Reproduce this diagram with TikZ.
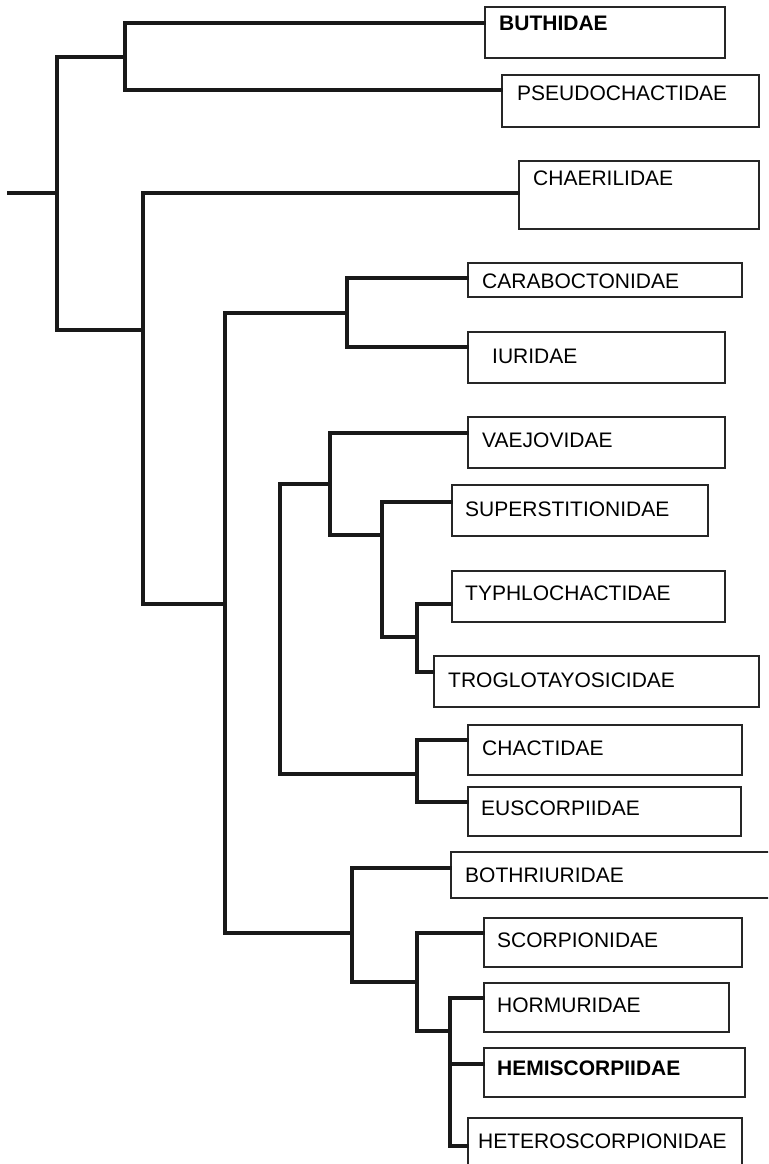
\documentclass[tikz,border=0pt]{standalone}
\usepackage{fontspec}
\setmainfont{Liberation Sans}
\begin{document}
\begin{tikzpicture}[x=1pt,y=-1pt,
  branch/.style={line width=3.7pt, draw=black!90, line cap=rect, line join=miter},
  taxonbox/.style={draw=black!85, line width=1.6pt, rectangle, inner sep=0pt, anchor=north west},
  boldbox/.style={taxonbox, line width=2.2pt},
  taxonname/.style={anchor=base west, inner sep=0pt, font=\fontsize{21}{25}\selectfont, text=black},
]
\useasboundingbox (0,0) rectangle (768,1164);
\clip (0,0) rectangle (768,1164);

% box of a terminal taxon: [style] name, left, top, right, bottom
\newcommand\leafbox[6][taxonbox]{%
  \node[#1, minimum width={(#5-#3)*1pt}, minimum height={(#6-#4)*1pt}] (#2) at (#3,#4) {};
}
% name of a terminal taxon: node, x, baseline, text
\newcommand\leaflabel[4]{%
  \node[taxonname] (#1-label) at (#2,#3) {#4};
}

% terminal taxa: boxes
\leafbox[boldbox]{buth}{484}{6}{724}{57}
\leafbox{pseu}{501}{74}{758}{126}
\leafbox{chae}{518}{160}{758}{228}
\leafbox{cara}{467}{262}{741}{296}
\leafbox{iuri}{467}{331}{724}{382}
\leafbox{vaej}{467}{416}{724}{467}
\leafbox{supe}{451}{484}{707}{535}
\leafbox{typh}{451}{570}{724}{621}
\leafbox{trog}{433}{655}{758}{706}
\leafbox{chac}{467}{724}{741}{774}
\leafbox{eusc}{467}{786}{740}{835}
\leafbox{both}{450}{851}{790}{897}
\leafbox{scor}{483}{917}{741}{966}
\leafbox{horm}{483}{982}{728}{1031}
\leafbox[taxonbox, line width=1.9pt]{hemi}{483}{1047}{744}{1096}
\leafbox{hete}{467}{1117}{741}{1190}

% terminal taxa: names
\leaflabel{buth}{499}{31}{\bfseries BUTHIDAE}
\leaflabel{pseu}{517}{100}{PSEUDOCHACTIDAE}
\leaflabel{chae}{533}{185}{CHAERILIDAE}
\leaflabel{cara}{482}{288}{CARABOCTONIDAE}
\leaflabel{iuri}{492}{363}{IURIDAE}
\leaflabel{vaej}{482}{447}{VAEJOVIDAE}
\leaflabel{supe}{465}{516}{SUPERSTITIONIDAE}
\leaflabel{typh}{465}{600}{TYPHLOCHACTIDAE}
\leaflabel{trog}{448}{687}{TROGLOTAYOSICIDAE}
\leaflabel{chac}{482}{755}{CHACTIDAE}
\leaflabel{eusc}{481}{815}{EUSCORPIIDAE}
\leaflabel{both}{465}{882}{BOTHRIURIDAE}
\leaflabel{scor}{497}{947}{SCORPIONIDAE}
\leaflabel{horm}{497}{1012}{HORMURIDAE}
\leaflabel{hemi}{497}{1075}{\bfseries HEMISCORPIIDAE}
\leaflabel{hete}{478}{1148}{HETEROSCORPIONIDAE}

% internal nodes of the tree
\coordinate (root) at (8.5,193);
\coordinate (n0) at (57,193);
\coordinate (nA) at (125,57);
\coordinate (nB) at (143,330);
\coordinate (nC) at (347,313);
\coordinate (nD) at (225,604);
\coordinate (nE) at (280,629);
\coordinate (nF) at (330,484);
\coordinate (nG) at (382,535);
\coordinate (nH) at (417,637);
\coordinate (nI) at (417,774);
\coordinate (nJ) at (352,933);
\coordinate (nK) at (417,982);
\coordinate (nL) at (450,1031);

% branches
\draw[branch] (root) -- (n0);
\draw[branch] (n0) |- (nA);
\draw[branch] (n0) |- (nB);
\draw[branch] (nA) |- (buth.west |- 0,23);
\draw[branch] (nA) |- (pseu.west |- 0,90);
\draw[branch] (nB) |- (chae.west |- 0,193);
\draw[branch] (nB) |- (nD);
\draw[branch] (nD) |- (nC);
\draw[branch] (nC) |- (cara.west |- 0,278);
\draw[branch] (nC) |- (iuri.west |- 0,347);
\draw[branch] (nD) |- (nJ);
\draw[branch] (nE) |- (nF);
\draw[branch] (nE) |- (nI);
\draw[branch] (nF) |- (vaej.west |- 0,433);
\draw[branch] (nF) |- (nG);
\draw[branch] (nG) |- (supe.west |- 0,502);
\draw[branch] (nG) |- (nH);
\draw[branch] (nH) |- (typh.west |- 0,604);
\draw[branch] (nH) |- (trog.west |- 0,672);
\draw[branch] (nI) |- (chac.west |- 0,740);
\draw[branch] (nI) |- (eusc.west |- 0,802);
\draw[branch] (nJ) |- (both.west |- 0,868);
\draw[branch] (nJ) |- (nK);
\draw[branch] (nK) |- (scor.west |- 0,933);
\draw[branch] (nK) |- (nL);
\draw[branch] (nL) |- (horm.west |- 0,998);
\draw[branch] (nL) |- (hemi.west |- 0,1064);
\draw[branch] (nL) |- (hete.west |- 0,1146);
\end{tikzpicture}
\end{document}
